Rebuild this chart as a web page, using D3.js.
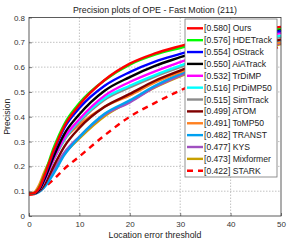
<!DOCTYPE html>
<html>
<head>
<meta charset="utf-8">
<script src="https://cdn.jsdelivr.net/npm/d3@7"></script>
<style>
  body { margin: 0; background: #fff; }
  svg { display: block; font-family: "Liberation Sans", Arial, sans-serif; }
</style>
</head>
<body>
<div id="chart"></div>
<script>
// Precision plot, Fast Motion subset
const thresholds = [0, 1, 2, 3, 5, 7, 10, 15, 20, 25, 30, 35, 40, 45, 50];

const names = ["Ours", "HDETrack", "OStrack", "AiATrack", "TrDiMP", "PrDiMP50",
  "SimTrack", "ATOM", "ToMP50", "TRANST", "KYS", "Mixformer", "STARK"];
const scores = ["0.580", "0.576", "0.554", "0.550", "0.532", "0.516",
  "0.515", "0.499", "0.491", "0.482", "0.477", "0.473", "0.422"];
const colors = ["#ff0000", "#00ff00", "#0000ff", "#000000", "#ff00ff", "#00ffff",
  "#8c8c8c", "#800000", "#ff8020", "#00a0f0", "#a050c0", "#c8a000", "#ff0000"];

const precOurs      = [0.09, 0.092, 0.112, 0.160, 0.270, 0.362, 0.448, 0.548, 0.614, 0.655, 0.685, 0.712, 0.733, 0.750, 0.762];
const precHDETrack  = [0.09, 0.092, 0.115, 0.165, 0.280, 0.370, 0.455, 0.547, 0.610, 0.650, 0.677, 0.703, 0.725, 0.743, 0.758];
const precOStrack   = [0.09, 0.092, 0.110, 0.155, 0.265, 0.355, 0.435, 0.525, 0.580, 0.622, 0.653, 0.683, 0.708, 0.728, 0.745];
const precAiATrack  = [0.09, 0.091, 0.105, 0.145, 0.245, 0.330, 0.410, 0.505, 0.560, 0.605, 0.640, 0.675, 0.705, 0.730, 0.752];
const precTrDiMP    = [0.09, 0.091, 0.105, 0.140, 0.235, 0.315, 0.390, 0.485, 0.540, 0.583, 0.620, 0.655, 0.685, 0.713, 0.738];
const precPrDiMP50  = [0.09, 0.091, 0.105, 0.140, 0.235, 0.310, 0.385, 0.475, 0.525, 0.568, 0.606, 0.642, 0.673, 0.702, 0.728];
const precSimTrack  = [0.09, 0.091, 0.105, 0.140, 0.230, 0.305, 0.378, 0.468, 0.518, 0.562, 0.600, 0.635, 0.666, 0.695, 0.722];
const precATOM      = [0.09, 0.090, 0.100, 0.125, 0.205, 0.280, 0.355, 0.440, 0.492, 0.545, 0.586, 0.625, 0.658, 0.687, 0.712];
const precToMP50    = [0.09, 0.095, 0.125, 0.175, 0.255, 0.310, 0.368, 0.440, 0.486, 0.538, 0.580, 0.618, 0.650, 0.678, 0.700];
const precTRANST    = [0.09, 0.090, 0.097, 0.115, 0.175, 0.245, 0.318, 0.412, 0.466, 0.525, 0.573, 0.612, 0.646, 0.677, 0.705];
const precKYS       = [0.09, 0.090, 0.100, 0.125, 0.190, 0.255, 0.320, 0.408, 0.458, 0.520, 0.566, 0.605, 0.640, 0.670, 0.697];
const precMixformer = [0.09, 0.090, 0.100, 0.125, 0.190, 0.250, 0.313, 0.402, 0.462, 0.518, 0.563, 0.603, 0.636, 0.665, 0.693];
const precSTARK     = [0.085, 0.088, 0.100, 0.115, 0.150, 0.190, 0.240, 0.325, 0.400, 0.456, 0.506, 0.550, 0.595, 0.640, 0.686];

const allPrec = [precOurs, precHDETrack, precOStrack, precAiATrack, precTrDiMP, precPrDiMP50,
  precSimTrack, precATOM, precToMP50, precTRANST, precKYS, precMixformer, precSTARK];

const xTicks = [0, 10, 20, 30, 40, 50];
const yTicks = [0, 0.1, 0.2, 0.3, 0.4, 0.5, 0.6, 0.7, 0.8];

const W = 299, H = 242;
const plotL = 29, plotR = 281, plotT = 17.5, plotB = 216;

const svg = d3.select("#chart").append("svg")
  .attr("width", W)
  .attr("height", H);

const x = d3.scaleLinear().domain([0, 50]).range([plotL, plotR]);
const y = d3.scaleLinear().domain([0, 0.8]).range([plotB, plotT]);

// grid
svg.append("g")
  .selectAll("line")
  .data(xTicks.slice(1, -1))
  .join("line")
  .attr("x1", d => x(d)).attr("x2", d => x(d))
  .attr("y1", plotT).attr("y2", plotB)
  .attr("stroke", "#a8a8a8").attr("stroke-width", 0.7)
  .attr("stroke-dasharray", "1.5,1.5");
svg.append("g")
  .selectAll("line")
  .data(yTicks.slice(1, -1))
  .join("line")
  .attr("x1", plotL).attr("x2", plotR)
  .attr("y1", d => y(d)).attr("y2", d => y(d))
  .attr("stroke", "#a8a8a8").attr("stroke-width", 0.7)
  .attr("stroke-dasharray", "1.5,1.5");

// curves
const line = d3.line()
  .x((d, i) => x(thresholds[i]))
  .y(d => y(d))
  .curve(d3.curveMonotoneX);

const order = d3.range(names.length).reverse();
svg.append("g")
  .selectAll("path")
  .data(order)
  .join("path")
  .attr("d", i => line(allPrec[i]))
  .attr("fill", "none")
  .attr("stroke", i => colors[i])
  .attr("stroke-width", 2.4)
  .attr("stroke-dasharray", i => names[i] === "STARK" ? "6,5" : null);

// axes box
const xAxis = d3.axisBottom(x).tickValues(xTicks).tickSize(-3).tickSizeOuter(0).tickPadding(5);
const yAxis = d3.axisLeft(y).tickValues(yTicks).tickSize(-3).tickSizeOuter(0).tickPadding(4)
  .tickFormat(d => d === 0 ? "0" : d3.format(".1f")(d));

const gx = svg.append("g").attr("transform", `translate(0,${plotB})`).call(xAxis);
const gy = svg.append("g").attr("transform", `translate(${plotL},0)`).call(yAxis);
[gx, gy].forEach(g => {
  g.select(".domain").remove();
  g.selectAll("line").attr("stroke", "#333").attr("stroke-width", 0.6);
  g.selectAll("text").attr("fill", "#333").style("font-size", "8px")
    .style("font-family", "'Liberation Sans', Arial, sans-serif");
});

svg.append("rect")
  .attr("x", plotL).attr("y", plotT)
  .attr("width", plotR - plotL).attr("height", plotB - plotT)
  .attr("fill", "none").attr("stroke", "#333").attr("stroke-width", 0.8);

// legend
const legX = 185, legY = 19, rowH = 11.87;
const leg = svg.append("g");
leg.append("rect")
  .attr("x", legX).attr("y", legY)
  .attr("width", 92).attr("height", 158)
  .attr("fill", "#fff").attr("stroke", "#777").attr("stroke-width", 0.8);

const rows = leg.selectAll("g.row")
  .data(d3.range(names.length))
  .join("g")
  .attr("class", "row")
  .attr("transform", i => `translate(${legX},${legY + 9.3 + i * rowH})`);
rows.append("line")
  .attr("x1", 2).attr("x2", 18)
  .attr("stroke", i => colors[i])
  .attr("stroke-width", 2.4)
  .attr("stroke-dasharray", i => names[i] === "STARK" ? "6,5" : null);
rows.append("text")
  .attr("x", 19)
  .attr("dy", "0.35em")
  .attr("fill", "#222")
  .style("font-size", "8.6px")
  .text(i => `[${scores[i]}] ${names[i]}`);

// titles
svg.append("text")
  .attr("x", (plotL + plotR) / 2)
  .attr("y", 13)
  .attr("text-anchor", "middle")
  .attr("fill", "#222")
  .style("font-size", "8.8px")
  .text("Precision plots of OPE - Fast Motion (211)");

svg.append("text")
  .attr("x", (plotL + plotR) / 2)
  .attr("y", 238)
  .attr("text-anchor", "middle")
  .attr("fill", "#222")
  .style("font-size", "8.8px")
  .text("Location error threshold");

svg.append("text")
  .attr("transform", `translate(10,${(plotT + plotB) / 2}) rotate(-90)`)
  .attr("text-anchor", "middle")
  .attr("fill", "#222")
  .style("font-size", "8.8px")
  .text("Precision");
</script>
</body>
</html>
